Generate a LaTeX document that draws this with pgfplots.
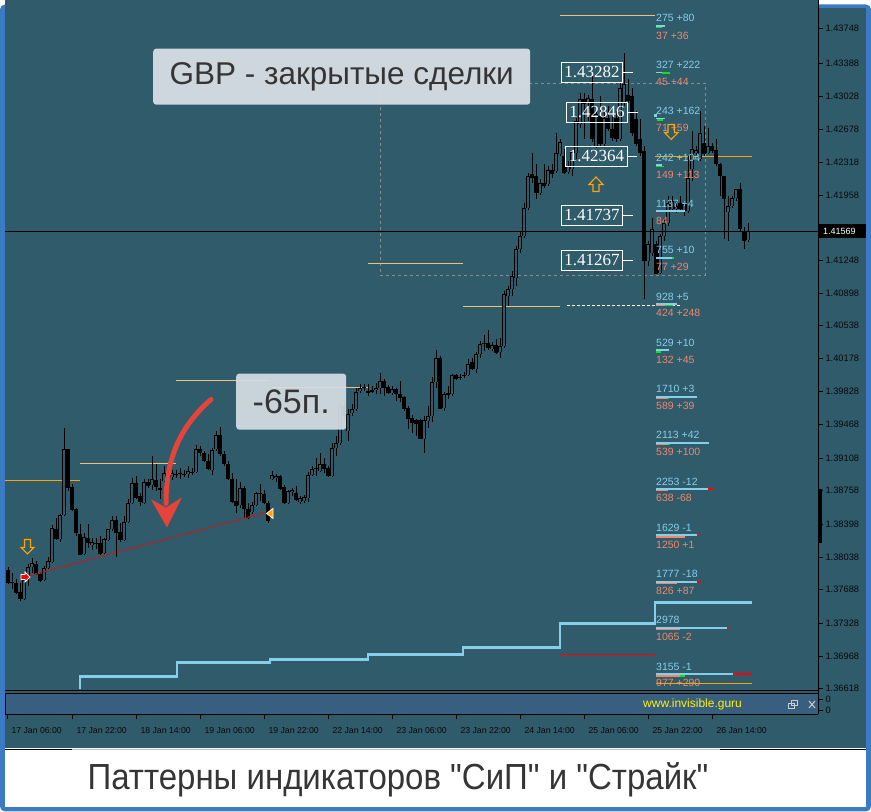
\documentclass[border=0pt]{standalone}
\usepackage{pgfplots}
\pgfplotsset{compat=1.18}
\usepackage{pgfplotstable}
\usepackage{fontspec}
\setmainfont{Liberation Sans}
\newfontfamily\pricefont{Liberation Serif}
\newfontfamily\titlefont{Liberation Sans}
\definecolor{chartbg}{HTML}{2F5B6B}
\definecolor{subbg}{HTML}{385F80}
\definecolor{frameblue}{HTML}{3B7BC4}
\definecolor{lblue}{HTML}{87CEEB}
\definecolor{salmon}{HTML}{F4866A}
\definecolor{lvlorange}{HTML}{FFA500}
\definecolor{paleorange}{HTML}{EDC27F}
\definecolor{boxgray}{HTML}{D6DEE4}
\definecolor{arrowred}{HTML}{E5443A}
\definecolor{textdark}{HTML}{353535}
\definecolor{tickdark}{HTML}{0A0A0A}
\definecolor{lgreen}{HTML}{10E020}
\newcommand{\fs}[1]{\fontsize{#1}{#1}\selectfont}

\pgfplotstableread{
x o h l c
8 574 571 588 587
12 586 577 593 587
16 587 583 598 597
20 596 587 605 603
24 603 582 604 584
28 580 568 590 571
32 571 562 577 567
36 568 565 579 578
40 578 576 586 585
44 584 570 585 572
48 572 561 573 565
52 566 529 567 532
56 533 522 544 543
60 543 518 546 519
64 519 432 520 453
68 453 453 495 492
72 491 488 515 514
76 513 512 540 537
80 538 528 559 559
84 558 537 559 541
88 542 528 552 547
92 549 542 554 546
96 547 542 553 548
100 547 540 559 558
104 557 542 558 543
108 544 533 545 533
112 533 520 535 524
116 524 520 561 537
120 536 527 546 544
124 544 520 545 526
128 526 503 527 507
132 507 482 508 487
136 487 480 503 502
140 500 497 510 506
144 507 483 508 486
148 486 483 492 490
152 489 460 494 483
156 484 468 495 491
160 492 483 503 494
164 485 470 486 477
168 480 470 483 481
172 481 474 484 477
176 479 474 482 478
180 478 472 483 477
184 478 474 481 479
188 478 470 482 475
192 476 472 479 477
196 476 449 477 453
200 453 450 460 457
204 457 455 466 465
208 465 458 474 473
212 474 452 479 454
216 453 435 455 439
220 439 431 460 458
224 458 455 470 468
228 468 465 484 483
232 483 477 507 506
236 505 483 517 510
240 509 486 512 492
244 492 490 523 513
248 513 507 523 522
252 516 506 518 509
256 509 496 510 497
260 498 488 505 497
264 498 494 508 507
268 507 505 527 525
272 483 475 484 479
276 482 478 486 480
280 480 479 494 493
284 491 489 508 507
288 507 494 508 495
292 496 492 500 494
296 497 490 505 504
300 506 500 508 502
304 505 499 507 501
308 502 476 506 479
312 479 470 480 473
316 473 462 480 472
320 475 457 476 468
324 468 462 477 473
328 472 470 481 480
332 480 447 481 452
336 452 440 460 447
340 447 407 449 410
344 410 405 425 420
348 435 413 445 418
352 417 408 420 413
356 413 392 415 396
360 395 388 397 392
364 392 388 395 391
368 395 388 400 397
372 394 390 397 396
376 394 387 398 392
380 392 377 398 385
384 385 383 400 392
388 391 389 398 397
392 397 390 399 393
396 393 392 405 398
400 398 385 406 402
404 401 400 415 413
408 412 410 433 423
412 422 419 437 427
416 424 423 440 428
420 424 423 443 443
424 443 420 457 424
428 425 410 432 420
432 420 381 426 386
436 386 354 392 362
440 362 360 413 413
444 412 396 415 398
448 397 390 403 399
452 398 378 400 379
456 379 378 384 383
460 382 378 384 381
464 380 376 382 379
468 379 363 380 368
472 366 362 374 373
476 373 356 377 358
480 358 345 362 348
484 347 339 355 348
488 347 334 354 352
492 353 346 355 349
496 349 343 358 357
500 356 342 362 350
504 350 295 352 298
508 300 290 310 293
512 293 275 300 280
516 282 250 290 253
520 253 235 257 240
524 240 207 242 212
528 212 177 214 180
532 178 157 187 182
536 180 168 203 197
540 197 183 199 187
544 187 168 192 190
548 188 170 190 174
552 174 168 182 178
556 175 137 177 157
560 158 143 160 146
564 160 153 178 177
568 176 165 178 170
572 173 155 180 156
576 157 122 163 125
580 128 97 132 103
584 103 97 143 108
588 107 99 125 102
592 103 80 146 143
596 150 115 152 118
600 120 100 150 148
604 148 115 150 122
608 122 110 135 133
612 133 120 145 142
616 122 115 146 143
620 143 87 145 92
624 107 57 110 88
628 99 83 107 105
632 100 92 140 137
636 123 115 150 148
640 143 123 160 157
644 155 150 303 265
648 265 245 270 248
652 257 222 260 233
656 248 245 278 278
660 277 238 278 240
664 240 222 245 227
668 227 200 230 207
672 213 200 215 205
676 213 205 217 210
680 207 200 215 213
684 215 205 220 208
688 215 160 217 182
692 173 135 185 153
696 157 150 160 154
700 163 115 165 137
704 147 130 160 158
708 157 132 158 150
712 150 147 157 155
716 154 143 170 168
720 168 167 200 180
724 180 180 243 203
728 216 200 245 210
732 210 200 212 202
736 202 193 205 193
740 193 187 235 233
744 235 231 253 245
748 244 227 246 235
}\candles

\begin{document}
\begin{tikzpicture}[x=1pt,y=1pt]
% window frame and caption band
\fill[frameblue, rounded corners=5pt] (0,0) rectangle (871,-807);
\fill[chartbg] (5,-4) rectangle (866,-744);
\fill[white] (5,-744) rectangle (866,-803);
\draw[black, line width=0.9pt] (5,-744.5) -- (72,-744.5);
\draw[black!25, line width=0.9pt] (72,-744.5) -- (720,-744.5);
\draw[black, line width=0.9pt] (720,-744.5) -- (866,-744.5);
\node[font=\titlefont\fs{33}, text=textdark] at (398,-775) {\scalebox{1.0}[1.1]{Паттерны индикаторов "СиП" и "Страйк"}};

\begin{axis}[
  at={(5,-4)}, anchor=north west,
  x=1pt, y=1pt, y dir=reverse,
  xmin=5, xmax=818, ymin=4, ymax=718,
  axis x line*=bottom, axis y line*=right,
  axis line style={black, line width=0.9pt, -},
  clip=false,
  axis background/.style={fill=chartbg},
  ytick={32,67,100,133,166,199,264,297,329,362,395,428,462,494,528,561,593,627,660,692,703,714},
  yticklabels={1.43748,1.43388,1.43028,1.42678,1.42318,1.41958,1.41248,1.40898,1.40538,1.40178,1.39828,1.39468,1.39108,1.38758,1.38398,1.38038,1.37688,1.37328,1.36968,1.36618,0,0},
  xtick={7,72,136,200,264,328,392,456,520,584,648,712},
  xticklabels={17 Jan 06:00,17 Jan 22:00,18 Jan 14:00,19 Jan 06:00,19 Jan 22:00,22 Jan 14:00,23 Jan 06:00,23 Jan 22:00,24 Jan 14:00,25 Jan 06:00,25 Jan 22:00,26 Jan 14:00},
  tick align=outside, major tick length=5pt,
  tick style={black, line width=0.6pt},
  yticklabel style={font=\fs{9.3}, text=tickdark, xshift=-1pt},
  xticklabel style={font=\fs{8.7}, text=tickdark, anchor=north west, xshift=1pt, yshift=-4pt},
]
% indicator sub-window
\fill[subbg] (axis cs:5,697) rectangle (axis cs:818,718);
\draw[black, line width=0.9pt] (axis cs:5,697) -- (axis cs:818,697);
\draw[black, line width=0.9pt] (axis cs:5,697) -- (axis cs:5,718);
\draw[black, line width=1pt] (axis cs:5,694.5) -- (axis cs:818,694.5);
\node[anchor=west, inner sep=0pt, text=yellow, font=\fs{12}] at (axis cs:643,708) {www.invisible.guru};
\draw[black!20, line width=0.8pt] (axis cs:788,707) rectangle (axis cs:794,712);
\draw[black!20, line width=0.8pt] (axis cs:791,704) rectangle (axis cs:797,709);
\draw[black!20, line width=1pt] (axis cs:809,704.5) -- (axis cs:815,711.5);
\draw[black!20, line width=1pt] (axis cs:809,711.5) -- (axis cs:815,704.5);
% dashed zone
\draw[black!45, line width=0.8pt, dash pattern=on 3pt off 3pt] (axis cs:380,87) rectangle (axis cs:705,279);
% level lines
\addplot[lvlorange, line width=1pt] coordinates {(5,484) (80,484)};
\addplot[paleorange, line width=0.9pt] coordinates {(80,467) (176,467)};
\addplot[paleorange, line width=0.9pt] coordinates {(176,384) (268,384)};
\addplot[paleorange, line width=0.9pt] coordinates {(272,391) (368,391)};
\addplot[paleorange, line width=0.9pt] coordinates {(368,267) (463,267)};
\addplot[paleorange, line width=0.9pt] coordinates {(463,310) (560,310)};
\addplot[paleorange, line width=0.9pt] coordinates {(560,19) (655,19)};
\addplot[lvlorange, line width=1.1pt] coordinates {(655,160) (752,160)};
\addplot[white, line width=0.9pt, dash pattern=on 3pt off 2pt] coordinates {(567,309) (680,309)};
% step line
\addplot[lblue, line width=2.6pt] coordinates {(80,693) (80,680) (177,680) (177,666) (270,666) (270,663) (368,663) (368,658) (463,658) (463,651) (560,651) (560,627) (655,627) (655,606) (752,606)};
\addplot[red, line width=1.6pt] coordinates {(560,658) (655,658)};
% candles: wicks, bodies, hollow interiors
\addplot[draw=none, mark=none, error bars/.cd, y dir=plus, y explicit, error mark=none,
  error bar style={draw=black, solid, line width=0.9pt}]
  table[x=x, y=h, y error plus expr={\thisrow{l}-\thisrow{h}}] {\candles};
\addplot[draw=none, mark=none, error bars/.cd, y dir=plus, y explicit, error mark=none,
  error bar style={draw=black, solid, line width=3.2pt, line cap=butt}]
  table[x=x, y expr={min(\thisrow{o},\thisrow{c})}, y error plus expr={abs(\thisrow{c}-\thisrow{o})}] {\candles};
\addplot[draw=none, mark=none, restrict expr to domain={\thisrow{o}-\thisrow{c}}{2:1000},
  error bars/.cd, y dir=plus, y explicit, error mark=none,
  error bar style={draw=chartbg, solid, line width=1.4pt, line cap=butt}]
  table[x=x, y expr={\thisrow{c}+0.9}, y error plus expr={\thisrow{o}-\thisrow{c}-1.8}] {\candles};
% current price line
\addplot[black, line width=0.9pt] coordinates {(5,235) (818,235)};
% price boxes
\node[draw=white, line width=0.9pt, text=white, font=\pricefont\fs{17}, inner xsep=3pt, inner ysep=0pt, minimum height=20pt] at (axis cs:592,76) {1.43282};
\node[draw=white, line width=0.9pt, text=white, font=\pricefont\fs{17}, inner xsep=3pt, inner ysep=0pt, minimum height=20pt] at (axis cs:597,116) {1.42846};
\node[draw=white, line width=0.9pt, text=white, font=\pricefont\fs{17}, inner xsep=3pt, inner ysep=0pt, minimum height=20pt] at (axis cs:596.5,160) {1.42364};
\node[draw=white, line width=0.9pt, text=white, font=\pricefont\fs{17}, inner xsep=3pt, inner ysep=0pt, minimum height=20pt] at (axis cs:592,219) {1.41737};
\node[draw=white, line width=0.9pt, text=white, font=\pricefont\fs{17}, inner xsep=3pt, inner ysep=0pt, minimum height=20pt] at (axis cs:592,264) {1.41267};
\draw[white, line width=0.9pt] (axis cs:623,76) -- (axis cs:633,76);
\draw[white, line width=0.9pt] (axis cs:628,116) -- (axis cs:638,116);
\draw[white, line width=0.9pt] (axis cs:627,160) -- (axis cs:637,160);
\draw[white, line width=0.9pt] (axis cs:623,219) -- (axis cs:633,219);
\draw[white, line width=0.9pt] (axis cs:623,264) -- (axis cs:633,264);
% indicator labels
\tikzset{lbA/.style={anchor=west, inner sep=0pt, text=lblue, font=\fs{10.5}}, lbB/.style={anchor=west, inner sep=0pt, text=salmon, font=\fs{10.5}}}
\node[lbA] at (axis cs:656,21) {275 +80};
\node[lbB] at (axis cs:656,39) {37 +36};
\node[lbA] at (axis cs:656,68) {327 +222};
\node[lbB] at (axis cs:656,85) {45 +44};
\node[lbA] at (axis cs:656,114) {243 +162};
\node[lbB] at (axis cs:656,131) {71 +59};
\node[lbA] at (axis cs:656,161) {242 +104};
\node[lbB] at (axis cs:656,178) {149 +113};
\node[lbA] at (axis cs:656,207) {1137 +4};
\node[lbB] at (axis cs:656,224) {84};
\node[lbA] at (axis cs:656,253) {755 +10};
\node[lbB] at (axis cs:656,270) {77 +29};
\node[lbA] at (axis cs:656,300) {928 +5};
\node[lbB] at (axis cs:656,316) {424 +248};
\node[lbA] at (axis cs:656,346) {529 +10};
\node[lbB] at (axis cs:656,363) {132 +45};
\node[lbA] at (axis cs:656,392) {1710 +3};
\node[lbB] at (axis cs:656,409) {589 +39};
\node[lbA] at (axis cs:656,438) {2113 +42};
\node[lbB] at (axis cs:656,455) {539 +100};
\node[lbA] at (axis cs:656,485) {2253 -12};
\node[lbB] at (axis cs:656,501) {638 -68};
\node[lbA] at (axis cs:656,531) {1629 -1};
\node[lbB] at (axis cs:656,548) {1250 +1};
\node[lbA] at (axis cs:656,577) {1777 -18};
\node[lbB] at (axis cs:656,594) {826 +87};
\node[lbA] at (axis cs:656,623) {2978};
\node[lbB] at (axis cs:656,640) {1065 -2};
\node[lbA] at (axis cs:656,670) {3155 -1};
\node[lbB] at (axis cs:656,686) {977 +290};
% indicator bars
\draw[lblue, line width=1.5pt] (axis cs:656,29.5) -- (axis cs:665,29.5);
\draw[lgreen, line width=1.5pt] (axis cs:656,31) -- (axis cs:662,31);
\draw[lblue, line width=1.5pt] (axis cs:656,76) -- (axis cs:665,76);
\draw[lgreen, line width=1.5pt] (axis cs:662,76.5) -- (axis cs:670,76.5);
\fill[lblue] (axis cs:654,118) rectangle (axis cs:657,121);
\draw[lblue, line width=1.5pt] (axis cs:656,122) -- (axis cs:665,122);
\draw[lgreen, line width=1.5pt] (axis cs:657,123.5) -- (axis cs:663,123.5);
\draw[lblue, line width=1.5pt] (axis cs:656,168.5) -- (axis cs:662,168.5);
\draw[lgreen, line width=1.5pt] (axis cs:656,170) -- (axis cs:664,170);
\draw[lblue, line width=2pt] (axis cs:656,215) -- (axis cs:685,215);
\draw[red, line width=1.2pt] (axis cs:656,217) -- (axis cs:658,217);
\draw[lblue, line width=2pt] (axis cs:656,262) -- (axis cs:673,262);
\draw[lgreen, line width=2pt] (axis cs:672,262) -- (axis cs:673.5,262);
\draw[lblue, line width=1.5pt] (axis cs:656,307.5) -- (axis cs:677,307.5);
\draw[salmon, line width=1.5pt] (axis cs:656,309) -- (axis cs:665,309);
\draw[lgreen, line width=1.5pt] (axis cs:665,309) -- (axis cs:673,309);
\draw[lblue, line width=1.5pt] (axis cs:656,353.5) -- (axis cs:669,353.5);
\draw[lgreen, line width=1.5pt] (axis cs:656,355.5) -- (axis cs:661,355.5);
\draw[lblue, line width=1.5pt] (axis cs:656,400.5) -- (axis cs:697,400.5);
\draw[salmon, line width=1.5pt] (axis cs:656,402) -- (axis cs:668,402);
\draw[lgreen, line width=1.5pt] (axis cs:667,402) -- (axis cs:669,402);
\draw[lblue, line width=1.5pt] (axis cs:656,446.5) -- (axis cs:709,446.5);
\draw[salmon, line width=1.5pt] (axis cs:656,448) -- (axis cs:668,448);
\draw[lgreen, line width=1.5pt] (axis cs:668,448) -- (axis cs:669.5,448);
\draw[lblue, line width=1.5pt] (axis cs:656,492.5) -- (axis cs:708,492.5);
\draw[red, line width=1.5pt] (axis cs:708,492.5) -- (axis cs:713,492.5);
\draw[salmon, line width=1.5pt] (axis cs:656,494) -- (axis cs:668,494);
\draw[lblue, line width=1.5pt] (axis cs:656,538.5) -- (axis cs:697,538.5);
\draw[red, line width=1.5pt] (axis cs:697,538.5) -- (axis cs:698.5,538.5);
\draw[salmon, line width=1.5pt] (axis cs:656,540.5) -- (axis cs:685,540.5);
\draw[lblue, line width=1.5pt] (axis cs:656,585.5) -- (axis cs:697,585.5);
\draw[red, line width=1.5pt] (axis cs:697,585.5) -- (axis cs:701,585.5);
\draw[salmon, line width=1.5pt] (axis cs:656,587) -- (axis cs:677,587);
\draw[lblue, line width=1.5pt] (axis cs:656,631.5) -- (axis cs:728,631.5);
\draw[red, line width=1.5pt] (axis cs:727,631.5) -- (axis cs:729,631.5);
\draw[salmon, line width=1.5pt] (axis cs:656,633) -- (axis cs:680,633);
\draw[lblue, line width=1.5pt] (axis cs:656,677.5) -- (axis cs:733,677.5);
\draw[red, line width=1.5pt] (axis cs:733,677.5) -- (axis cs:752,677.5);
\draw[salmon, line width=1.5pt] (axis cs:656,679.5) -- (axis cs:680,679.5);
\draw[lgreen, line width=1.5pt] (axis cs:680,679.5) -- (axis cs:685,679.5);
\draw[lvlorange, line width=1pt] (axis cs:656,687) -- (axis cs:752,687);
% hollow orange arrows
\draw[lvlorange, line width=1.1pt, line join=miter] (axis cs:24.5,543) -- (axis cs:30.5,543) -- (axis cs:30.5,551) -- (axis cs:34,551) -- (axis cs:27.5,557.5) -- (axis cs:21,551) -- (axis cs:24.5,551) -- cycle;
\draw[lvlorange, line width=1.1pt, line join=miter] (axis cs:593,195) -- (axis cs:599,195) -- (axis cs:599,188) -- (axis cs:603,188) -- (axis cs:596,180.5) -- (axis cs:589,188) -- (axis cs:593,188) -- cycle;
\draw[lvlorange, line width=1.1pt, line join=miter] (axis cs:668,128) -- (axis cs:674.5,128) -- (axis cs:674.5,136) -- (axis cs:678,136) -- (axis cs:671.3,143) -- (axis cs:664.5,136) -- (axis cs:668,136) -- cycle;
% red dotted trend line and markers
\addplot[red, line width=1.3pt, dash pattern=on 2.5pt off 2.5pt] coordinates {(30,579) (266,516)};
\filldraw[fill=red, draw=white, line width=0.8pt] (axis cs:21,578) -- (axis cs:25,578) -- (axis cs:25,575.5) -- (axis cs:30,580.5) -- (axis cs:25,585.5) -- (axis cs:25,583) -- (axis cs:21,583) -- cycle;
\filldraw[fill=lvlorange, draw=white, line width=0.7pt] (axis cs:273,512) -- (axis cs:273,522) -- (axis cs:266.5,517) -- cycle;
% red curved arrow
\draw[arrowred, line width=5pt, line cap=round] (axis cs:211,403) .. controls (axis cs:180,430) and (axis cs:166,462) .. (axis cs:166,507);
\fill[arrowred] (axis cs:151,503) -- (axis cs:166,511) -- (axis cs:182,501) -- (axis cs:167,531) -- cycle;
% comment boxes
\node[fill=boxgray, fill opacity=0.95, text opacity=1, rounded corners=3pt, minimum width=377pt, minimum height=56pt, inner sep=0pt, anchor=north west, text=textdark, font=\fs{31.5}] at (axis cs:153,52) {GBP - закрытые сделки};
\node[fill=boxgray, fill opacity=0.92, text opacity=1, rounded corners=3pt, minimum width=110pt, minimum height=56pt, inner sep=0pt, anchor=north west, text=textdark, font=\fs{34}] at (axis cs:236,377) {-65п.};
% current price label and mark on axis
\fill[black] (axis cs:819,228) rectangle (axis cs:866,242);
\node[anchor=west, inner sep=0pt, text=white, font=\fs{9}] at (axis cs:823,235) {1.41569};
\fill[black] (axis cs:818.5,493) rectangle (axis cs:822,547);
\end{axis}
\end{tikzpicture}
\end{document}
